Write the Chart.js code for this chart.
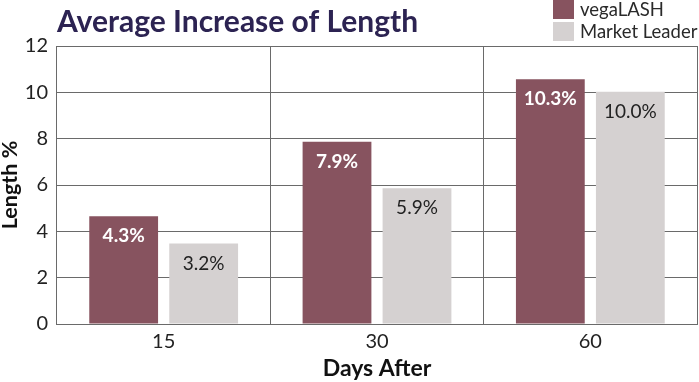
<!DOCTYPE html>
<html>
<head>
<meta charset="utf-8">
<script src="https://cdn.jsdelivr.net/npm/chart.js@4.4.0/dist/chart.umd.min.js"></script>
<style>
    body { margin: 0; background: #fff; }
    #wrap { width: 699px; height: 382px; position: relative; }
</style>
</head>
<body>
<div id="wrap"><canvas id="barras"></canvas></div>
<script>
const days = ["15", "30", "60"];
const vegaLash = [4.65, 7.87, 10.57];
const marketLeader = [3.47, 5.86, 10.03];
const vegaLabels = ["4.3%", "7.9%", "10.3%"];
const marketLabels = ["3.2%", "5.9%", "10.0%"];
const yTicks = [0, 2, 4, 6, 8, 10, 12];

const FONT = "Lato, 'Open Sans', sans-serif";
const GRID = "#6a6a6a";

// value labels inside the top of each bar
const barLabels = {
    id: "barLabels",
    afterDatasetsDraw(chart) {
        const ctx = chart.ctx;
        const sets = [
            { labels: vegaLabels, color: "#fff", weight: "bold" },
            { labels: marketLabels, color: "#222", weight: "normal" },
        ];
        ctx.save();
        ctx.textAlign = "center";
        ctx.textBaseline = "middle";
        sets.forEach(function (s, i) {
            ctx.fillStyle = s.color;
            ctx.font = s.weight + " 19px " + FONT;
            chart.getDatasetMeta(i).data.forEach(function (bar, j) {
                ctx.fillText(s.labels[j], bar.x, bar.y + 20);
            });
        });
        ctx.restore();
    },
};

// two-row legend in the top right corner
const cornerLegend = {
    id: "cornerLegend",
    afterDraw(chart) {
        const ctx = chart.ctx;
        ctx.save();
        ctx.font = "18.5px " + FONT;
        ctx.textBaseline = "middle";
        chart.data.datasets.forEach(function (ds, i) {
            const y = i * 22;
            ctx.fillStyle = ds.backgroundColor;
            ctx.fillRect(553, y, 21, 19);
            ctx.fillStyle = "#2a2a2a";
            ctx.fillText(ds.label, 580, y + 10);
        });
        ctx.restore();
    },
};

new Chart(document.getElementById("barras"), {
    type: "bar",
    data: {
        labels: days,
        datasets: [
            {
                label: "vegaLASH",
                data: vegaLash,
                backgroundColor: "#87535f",
                borderWidth: 0,
                categoryPercentage: 0.75,
                barPercentage: 0.86,
            },
            {
                label: "Market Leader",
                data: marketLeader,
                backgroundColor: "#d5d1d1",
                borderWidth: 0,
                categoryPercentage: 0.75,
                barPercentage: 0.86,
            },
        ],
    },
    options: {
        responsive: true,
        maintainAspectRatio: false,
        animation: false,
        layout: { padding: { top: 0, right: 2, bottom: 0, left: 0 } },
        scales: {
            x: {
                grid: { color: GRID, drawTicks: false, lineWidth: 1 },
                border: { color: GRID },
                ticks: {
                    font: { family: FONT, size: 20 },
                    color: "#222",
                    padding: 6,
                },
                title: {
                    display: true,
                    text: "Days After",
                    font: { family: FONT, size: 23, weight: "bold" },
                    color: "#111",
                    // negative top pulls the axis down, chart.js counts tick padding twice
                    padding: { top: -5.6, bottom: 0 },
                },
            },
            y: {
                min: 0,
                max: 12,
                grid: { color: GRID, drawTicks: false },
                border: { color: GRID },
                afterBuildTicks: function (axis) {
                    axis.ticks = yTicks.map(function (v) { return { value: v }; });
                },
                ticks: {
                    font: { family: FONT, size: 20 },
                    color: "#222",
                    padding: 9,
                },
                title: {
                    display: true,
                    text: "Length %",
                    font: { family: FONT, size: 21.5, weight: "bold" },
                    color: "#111",
                    padding: { top: -3, bottom: -7 },
                },
            },
        },
        plugins: {
            legend: { display: false },
            tooltip: { enabled: false },
            title: {
                display: true,
                text: "Average Increase of Length",
                align: "start",
                fullSize: false,
                color: "#2c2352",
                font: { family: FONT, size: 30, weight: "bold" },
                padding: { top: 4, bottom: 6 },
            },
        },
    },
    plugins: [barLabels, cornerLegend],
});
</script>
</body>
</html>
